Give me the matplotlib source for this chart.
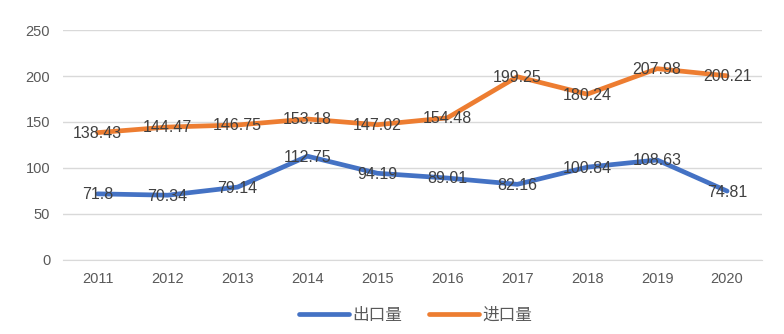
import matplotlib.pyplot as plt
import numpy as np

plt.rcParams['font.family'] = ['Noto Sans CJK SC', 'DejaVu Sans']

years = ['2011', '2012', '2013', '2014', '2015', '2016', '2017', '2018', '2019', '2020']
export_vals = [71.8, 70.34, 79.14, 112.75, 94.19, 89.01, 82.16, 100.84, 108.63, 74.81]
import_vals = [138.43, 144.47, 146.75, 153.18, 147.02, 154.48, 199.25, 180.24, 207.98, 200.21]
export_labels = ['71.8', '70.34', '79.14', '112.75', '94.19', '89.01', '82.16', '100.84', '108.63', '74.81']
import_labels = ['138.43', '144.47', '146.75', '153.18', '147.02', '154.48', '199.25', '180.24', '207.98', '200.21']

fig = plt.figure(figsize=(7.84, 3.34), dpi=100)
ax = fig.add_axes([0.080, 0.222, 0.892, 0.688])

x = np.arange(len(years))
ax.plot(x, export_vals, color='#4472C4', lw=3.4, label='出口量', solid_capstyle='round')
ax.plot(x, import_vals, color='#ED7D31', lw=3.4, label='进口量', solid_capstyle='round')

for xi, v, s in zip(x, export_vals, export_labels):
    ax.text(xi, v - 1, s, ha='center', va='center', fontsize=11.5, color='#404040',
            family=['Liberation Sans', 'DejaVu Sans'])
for xi, v, s in zip(x, import_vals, import_labels):
    ax.text(xi, v - 1, s, ha='center', va='center', fontsize=11.5, color='#404040',
            family=['Liberation Sans', 'DejaVu Sans'])

ax.set_xlim(-0.5, len(years) - 0.5)
ax.set_ylim(0, 250)
ax.set_yticks([0, 50, 100, 150, 200, 250])
ax.set_xticks(x)
ax.set_xticklabels(years)
ax.grid(axis='y', color='#D9D9D9', lw=1)
ax.set_axisbelow(True)
for sp in ['top', 'right', 'left']:
    ax.spines[sp].set_visible(False)
ax.spines['bottom'].set_color('#D9D9D9')
ax.tick_params(length=0, labelsize=10.5, colors='#595959', pad=9)
for lab in ax.get_xticklabels() + ax.get_yticklabels():
    lab.set_family(['Liberation Sans', 'DejaVu Sans'])

fig.legend(loc='lower center', bbox_to_anchor=(0.53, -0.015), ncol=2, frameon=False,
           fontsize=12, labelcolor='#595959', handlelength=3.0, handletextpad=0.2,
           columnspacing=1.6)

fig.savefig('out.png', dpi=100)
